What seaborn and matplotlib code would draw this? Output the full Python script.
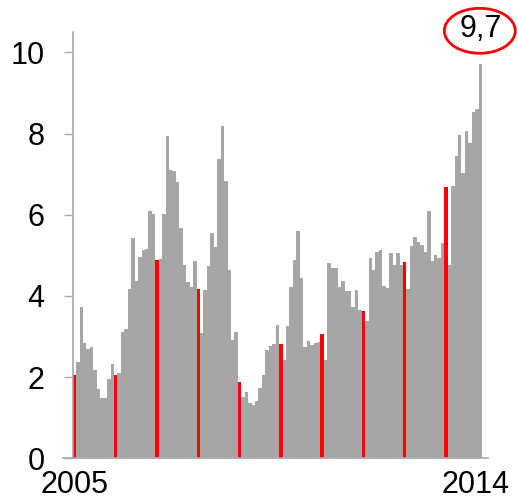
import matplotlib
matplotlib.use("Agg")
import matplotlib.pyplot as plt
import seaborn as sns
import pandas as pd
from matplotlib.patches import Ellipse

# Monthly values, Jan 2005 .. Nov 2014
values = [
    2.05, 2.36, 3.72, 2.85, 2.70, 2.75, 2.17, 1.70, 1.48, 1.48, 1.95, 2.32,   # 2005
    2.06, 2.10, 3.10, 3.18, 4.17, 5.42, 4.37, 4.96, 5.14, 5.16, 6.10, 6.02,   # 2006
    4.89, 4.91, 6.02, 7.95, 7.09, 7.07, 6.81, 5.67, 4.76, 4.35, 4.21, 4.85,   # 2007
    4.17, 3.08, 4.15, 4.73, 5.54, 5.20, 7.37, 8.19, 6.84, 4.64, 2.92, 3.12,   # 2008
    1.87, 1.52, 1.64, 1.36, 1.31, 1.40, 1.74, 2.05, 2.67, 2.77, 2.81, 3.29,   # 2009
    2.82, 2.42, 3.26, 4.22, 4.89, 5.60, 4.44, 2.75, 2.89, 2.79, 2.85, 2.87,   # 2010
    3.06, 2.42, 4.82, 4.68, 4.68, 4.21, 4.36, 4.11, 4.13, 3.73, 4.15, 3.66,   # 2011
    3.63, 3.37, 4.93, 4.63, 5.07, 5.14, 4.25, 4.19, 5.05, 4.77, 5.05, 4.77,   # 2012
    4.84, 4.18, 5.23, 5.46, 5.33, 5.25, 5.08, 6.10, 4.86, 5.01, 4.93, 5.30,   # 2013
    6.68, 4.75, 6.71, 7.45, 7.97, 7.03, 8.05, 7.77, 8.52, 8.60, 9.70,         # 2014
]
year_labels = ["2005", "2014"]
year_label_months = [0, 116.7]
y_ticks = [0, 2, 4, 6, 8, 10]
y_tick_labels = ["0", "2", "4", "6", "8", "10"]
last_value_label = "9,7"

months = list(range(len(values)))
kinds = ["jan" if m % 12 == 0 else "other" for m in months]
df = pd.DataFrame({"month": months, "value": values, "kind": kinds})

sns.set_style("white")
plt.rcParams["font.family"] = ["Liberation Sans", "DejaVu Sans"]

fig = plt.figure(figsize=(5.18, 5.0), dpi=100)
ax = fig.add_axes([0.1222, 0.0834, 0.8205, 0.8526])

sns.barplot(data=df, x="month", y="value", hue="kind",
            palette={"jan": "#ff0000", "other": "#a6a6a6"},
            width=1.0, saturation=1, linewidth=0, dodge=False,
            legend=False, ax=ax)

ax.set_xlim(-3.23, 120.3)
ax.set_ylim(0, 10.5)
ax.set_xlabel("")
ax.set_ylabel("")

for s in ["top", "right"]:
    ax.spines[s].set_visible(False)
ax.spines["left"].set_position(("data", -0.5))
for s in ["left", "bottom"]:
    ax.spines[s].set_color("#a8a8a8")
    ax.spines[s].set_linewidth(1.2)

ax.set_yticks(y_ticks)
ax.set_yticklabels(y_tick_labels)
ax.tick_params(axis="y", left=True, length=6.8, width=1.0, color="#a8a8a8",
               pad=13.5, labelsize=22, labelcolor="black")
ax.set_xticks(year_label_months)
ax.set_xticklabels(year_labels)
ax.tick_params(axis="x", bottom=True, length=0, pad=8.3, labelsize=22,
               labelcolor="black")
ax.grid(False)

# circled annotation of last value
ell = Ellipse((479.8 / 518, 1 - 30.8 / 500), 71 / 518, 45 / 500,
              transform=fig.transFigure, fill=False, edgecolor="#ff0000",
              linewidth=2.0)
fig.add_artist(ell)
fig.text(481 / 518, 1 - 29 / 500, last_value_label, ha="center", va="center",
         fontsize=22, color="black")

fig.savefig("out.png", dpi=100)
